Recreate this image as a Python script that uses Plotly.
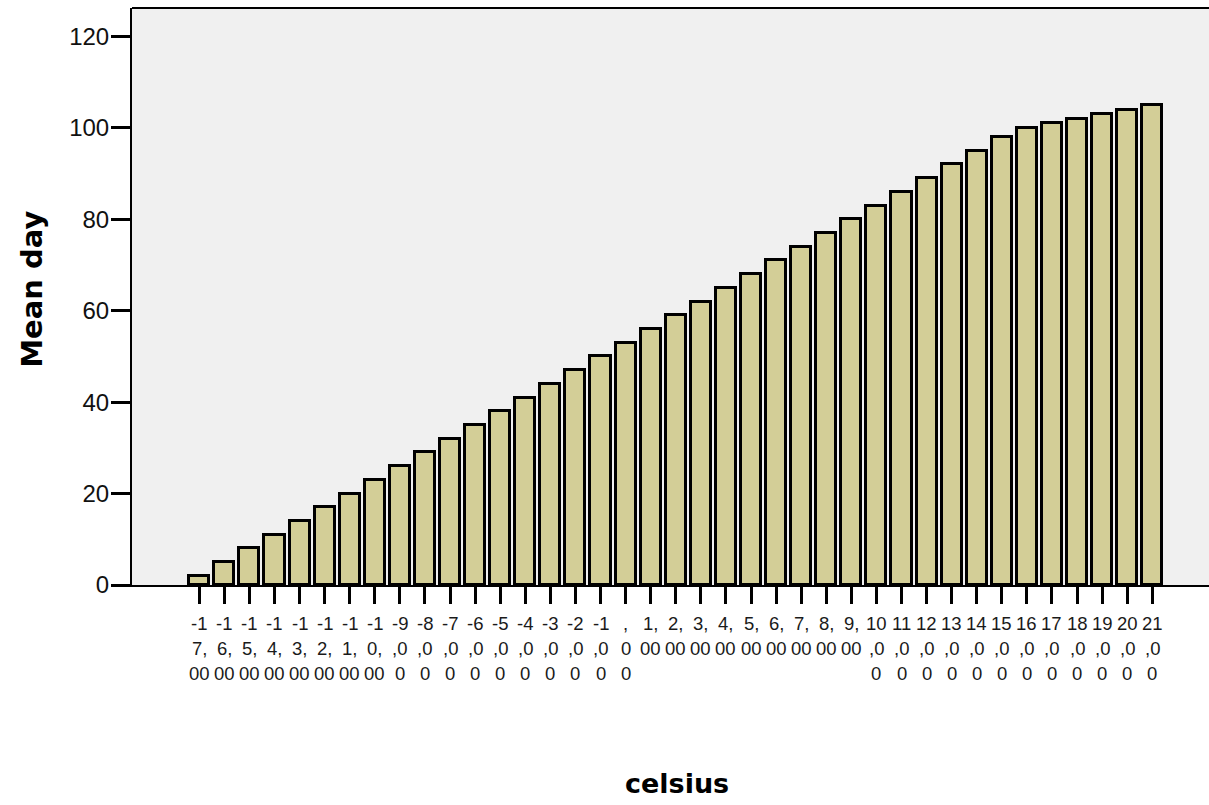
import plotly.graph_objects as go

celsius = list(range(-17, 22))
mean_day = [2, 5, 8, 11, 14, 17, 20, 23, 26, 29, 32, 35, 38, 41, 44, 47, 50, 53,
            56, 59, 62, 65, 68, 71, 74, 77, 80, 83, 86, 89, 92, 95, 98, 100,
            101, 102, 103, 104, 105]
tick_labels = [
    "-1|7,|00", "-1|6,|00", "-1|5,|00", "-1|4,|00", "-1|3,|00", "-1|2,|00",
    "-1|1,|00", "-1|0,|00", "-9|,0|0", "-8|,0|0", "-7|,0|0", "-6|,0|0",
    "-5|,0|0", "-4|,0|0", "-3|,0|0", "-2|,0|0", "-1|,0|0", ",|0|0",
    "1,|00", "2,|00", "3,|00", "4,|00", "5,|00", "6,|00", "7,|00", "8,|00",
    "9,|00", "10|,0|0", "11|,0|0", "12|,0|0", "13|,0|0", "14|,0|0",
    "15|,0|0", "16|,0|0", "17|,0|0", "18|,0|0", "19|,0|0", "20|,0|0",
    "21|,0|0",
]
y_ticks = [0, 20, 40, 60, 80, 100, 120]

FONT = "Arial, 'Liberation Sans', sans-serif"
NARROW = "'Liberation Sans Narrow', 'Arial Narrow', Arial, sans-serif"
WIDE = "'DejaVu Sans', Arial, sans-serif"
idx = list(range(len(celsius)))

fig = go.Figure(go.Bar(
    x=idx, y=mean_day, width=0.8,
    marker=dict(color="#D3CE97", line=dict(color="black", width=3)),
    hoverinfo="skip",
))

annotations = []
for i, lab in enumerate(tick_labels):
    for j, line in enumerate(lab.split("|")):
        annotations.append(dict(
            x=i, xref="x", y=0, yref="paper", yanchor="middle", xanchor="center",
            yshift=-38 - 25 * j, text=line, showarrow=False,
            font=dict(family=NARROW, size=18.5, color="#1a1a1a"),
        ))
annotations.append(dict(
    x=(677 - 132) / 1077, xref="paper", y=0, yref="paper", yanchor="middle",
    xanchor="center", yshift=-198, text="<b>celsius</b>", showarrow=False,
    font=dict(family=WIDE, size=27, color="black"),
))
annotations.append(dict(
    x=(32 - 132) / 1077, xref="paper", y=(585 - 290) / 576.5, yref="paper",
    yanchor="middle", xanchor="center", text="<b>Mean day</b>", textangle=-90,
    showarrow=False, font=dict(family=WIDE, size=29, color="black"),
))

fig.update_layout(
    width=1209, height=805,
    margin=dict(l=132, r=0, t=8, b=220),
    paper_bgcolor="white", plot_bgcolor="#F0F0F0",
    showlegend=False, bargap=0,
    annotations=annotations,
    font=dict(family=FONT, color="black"),
)
fig.update_xaxes(
    range=[-2.68, 40.26], tickvals=idx, ticktext=[""] * len(idx),
    ticks="outside", ticklen=17, tickwidth=3, tickcolor="black",
    showline=True, linecolor="black", linewidth=1.5, mirror=False,
    showgrid=False, zeroline=False, fixedrange=True,
)
fig.update_yaxes(
    range=[0, 126.2], tickvals=y_ticks, ticks="outside", ticklen=19, tickwidth=3,
    tickcolor="black", showline=True, linecolor="black", linewidth=2,
    showgrid=False, zeroline=False, tickfont=dict(family=FONT, size=24, color="#111"),
    ticklabelstandoff=-3, fixedrange=True,
)
# top border of plot frame
fig.add_shape(type="line", xref="paper", yref="paper", x0=0, x1=1, y0=1, y1=1,
              line=dict(color="black", width=2))

fig.write_html(
    "out.html",
    config={"displayModeBar": False},
    post_script="document.body.style.margin='0';document.body.style.overflow='hidden';",
)
